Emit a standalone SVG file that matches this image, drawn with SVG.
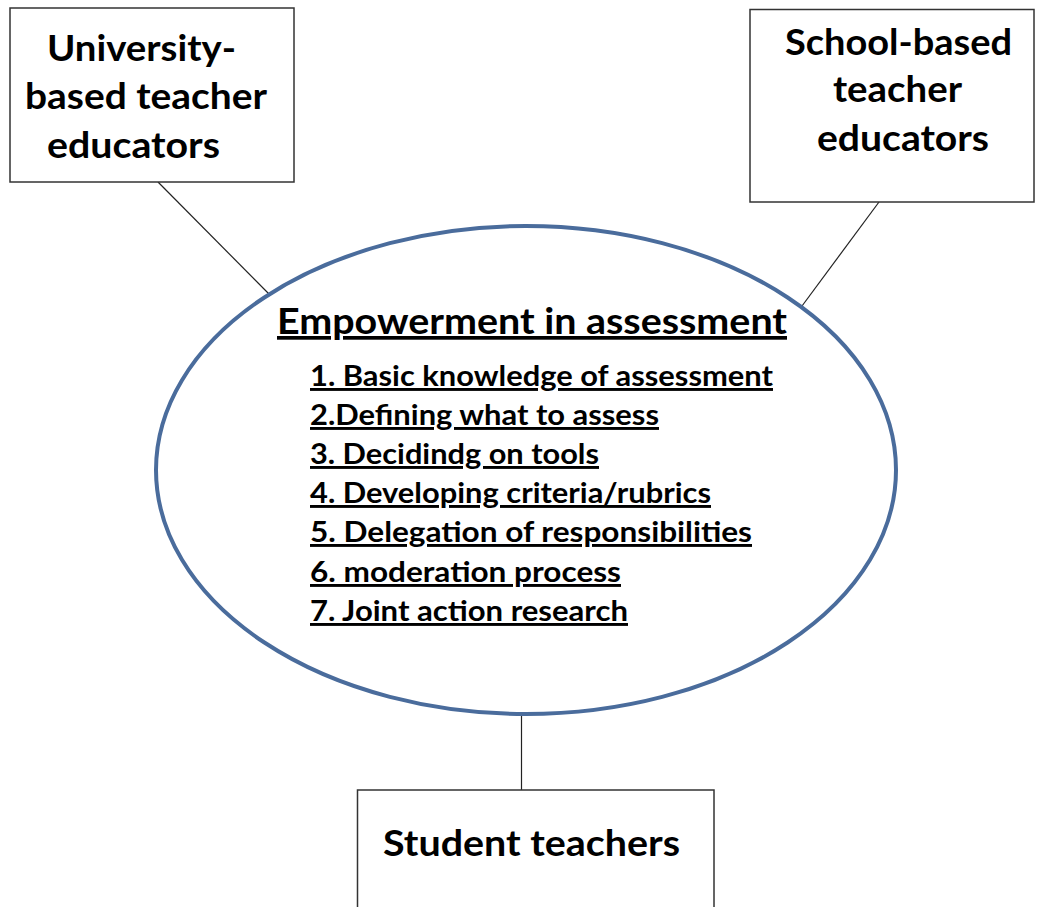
<svg xmlns="http://www.w3.org/2000/svg" width="1040" height="907" viewBox="0 0 1040 907">
<style>
.box{fill:#fff;stroke:#333;stroke-width:1.5}
.conn{stroke:#222;stroke-width:1.2;fill:none}
.lbl{font-family:Lato,"Open Sans","Liberation Sans",sans-serif;font-weight:bold;fill:#000}
.big{font-size:36px}
.title{font-size:37px;text-decoration:underline}
.item{font-size:29px;text-decoration:underline}
</style>
<rect width="1040" height="907" fill="#fff"/>
<g id="connectors">
<line class="conn" x1="158" y1="182" x2="270" y2="295"/>
<line class="conn" x1="879" y1="202" x2="802" y2="306"/>
<line class="conn" x1="521.5" y1="713" x2="521.5" y2="790"/>
</g>
<g id="node-university">
<rect class="box" x="10" y="8" width="284" height="174"/>
<text class="lbl big" x="47" y="61" textLength="189" lengthAdjust="spacingAndGlyphs">University-</text>
<text class="lbl big" x="25" y="109" textLength="242" lengthAdjust="spacingAndGlyphs">based teacher</text>
<text class="lbl big" x="47" y="158" textLength="173" lengthAdjust="spacingAndGlyphs">educators</text>
</g>
<g id="node-school">
<rect class="box" x="750" y="9.5" width="284" height="192.5"/>
<text class="lbl big" x="785" y="55" textLength="227" lengthAdjust="spacingAndGlyphs">School-based</text>
<text class="lbl big" x="833" y="102" textLength="129" lengthAdjust="spacingAndGlyphs">teacher</text>
<text class="lbl big" x="817" y="151" textLength="172" lengthAdjust="spacingAndGlyphs">educators</text>
</g>
<g id="node-students">
<rect class="box" x="357.5" y="790" width="356.5" height="130"/>
<text class="lbl big" x="383" y="856" textLength="297" lengthAdjust="spacingAndGlyphs">Student teachers</text>
</g>
<g id="node-empowerment">
<ellipse cx="526" cy="470" rx="370" ry="244" fill="#fff" stroke="#4a6c9c" stroke-width="4"/>
<text class="lbl title" x="277" y="334" textLength="510" lengthAdjust="spacingAndGlyphs">Empowerment in assessment</text>
<text class="lbl item" x="310" y="386" textLength="463" lengthAdjust="spacingAndGlyphs">1. Basic knowledge of assessment</text>
<text class="lbl item" x="310" y="425" textLength="349" lengthAdjust="spacingAndGlyphs">2.Defining what to assess</text>
<text class="lbl item" x="310" y="464" textLength="289" lengthAdjust="spacingAndGlyphs">3. Decidindg on tools</text>
<text class="lbl item" x="310" y="503" textLength="401" lengthAdjust="spacingAndGlyphs">4. Developing criteria/rubrics</text>
<text class="lbl item" x="310" y="542" textLength="442" lengthAdjust="spacingAndGlyphs">5. Delegation of responsibilities</text>
<text class="lbl item" x="310" y="582" textLength="311" lengthAdjust="spacingAndGlyphs">6. moderation process</text>
<text class="lbl item" x="310" y="621" textLength="318" lengthAdjust="spacingAndGlyphs">7. Joint action research</text>
</g>
</svg>
